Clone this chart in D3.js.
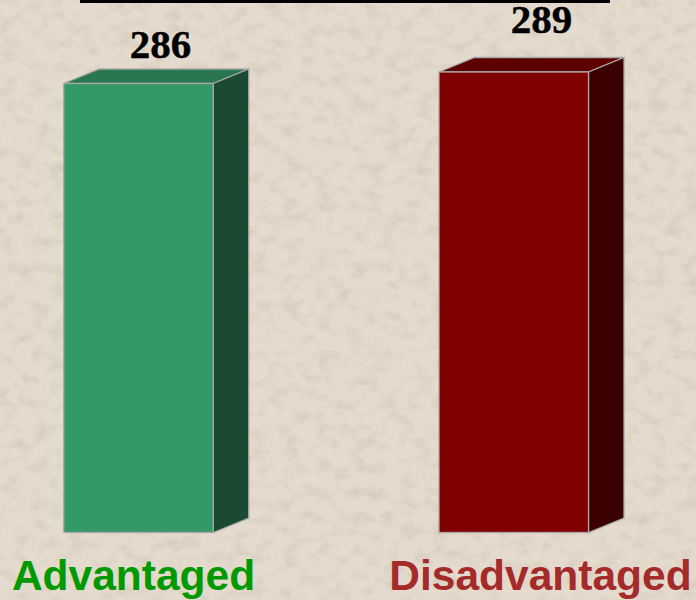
<!DOCTYPE html>
<html><head><meta charset="utf-8">
<script src="https://cdn.jsdelivr.net/npm/d3@7"></script>
<style>html,body{margin:0;padding:0;background:#e2d8ca;overflow:hidden}svg{display:block}</style>
</head><body><div id="c"></div>
<script>
const categories = ["Advantaged", "Disadvantaged"];
const values = [286, 289];
const frontColors = ["#339966", "#800000"];
const topColors = ["#29774f", "#5c0000"];
const sideColors = ["#1b4a33", "#3b0000"];
const labelColors = ["#009900", "#a52a2a"];

const W = 696, H = 600, dx = 35.5, dy = 14.5, barW = 149.5;
const base = 169;
const svg = d3.select("#c").append("svg").attr("width", W).attr("height", H);
const defs = svg.append("defs");
const f = defs.append("filter").attr("id","paper").attr("x",0).attr("y",0).attr("width","100%").attr("height","100%");
f.append("feTurbulence").attr("type","fractalNoise").attr("baseFrequency","0.06 0.08").attr("numOctaves",5).attr("seed",7).attr("result","n");
f.append("feColorMatrix").attr("in","n").attr("type","matrix")
 .attr("values","0 0 0 0 0.55  0 0 0 0 0.48  0 0 0 0 0.38  1.0 0 0 0 -0.44").attr("result","d");
f.append("feMerge").selectAll("feMergeNode").data(["SourceGraphic","d"]).join("feMergeNode").attr("in",d=>d);
svg.append("rect").attr("width",W).attr("height",H).attr("fill","#e4dbce").attr("filter","url(#paper)");

const x = d3.scalePoint().domain(categories).range([63.75, 439]);
const y = d3.scaleLinear().domain([base, 289]).range([532.5, 72]);

svg.append("line").attr("x1",80).attr("x2",610).attr("y1",1.5).attr("y2",1.5).attr("stroke","#000").attr("stroke-width",3);

const g = svg.selectAll("g.bar").data(categories).join("g").attr("class","bar");
const edge = "#a8a8a8";
g.append("path").attr("fill",(d,i)=>topColors[i]).attr("stroke",edge).attr("stroke-width",1.3)
 .attr("d",(d,i)=>{const a=x(d),t=y(values[i]);return `M${a},${t}L${a+dx},${t-dy}L${a+barW+dx},${t-dy}L${a+barW},${t}Z`;});
g.append("path").attr("fill",(d,i)=>sideColors[i]).attr("stroke",edge).attr("stroke-width",1.3)
 .attr("d",(d,i)=>{const a=x(d)+barW,t=y(values[i]),b=y(base);return `M${a},${t}L${a+dx},${t-dy}L${a+dx},${b-dy}L${a},${b}Z`;});
g.append("rect").attr("x",d=>x(d)).attr("y",(d,i)=>y(values[i])).attr("width",barW)
 .attr("height",(d,i)=>y(base)-y(values[i])).attr("fill",(d,i)=>frontColors[i]).attr("stroke",edge).attr("stroke-width",1.3);

g.append("text").attr("x",(d,i)=>i?541.5:160.5).attr("y",(d,i)=>i?33:58)
 .attr("text-anchor","middle").attr("font-family","'Liberation Serif',serif").attr("font-weight","bold")
 .attr("font-size",41).attr("stroke","#000").attr("stroke-width",0.4).attr("fill","#000").text((d,i)=>values[i]);

g.append("text").attr("x",(d,i)=>i?540.5:133.5).attr("y",590).attr("text-anchor","middle")
 .attr("font-family","'Liberation Sans',sans-serif").attr("font-weight","bold").attr("font-size",42.5)
 .attr("fill",(d,i)=>labelColors[i]).text(d=>d);
</script></body></html>
